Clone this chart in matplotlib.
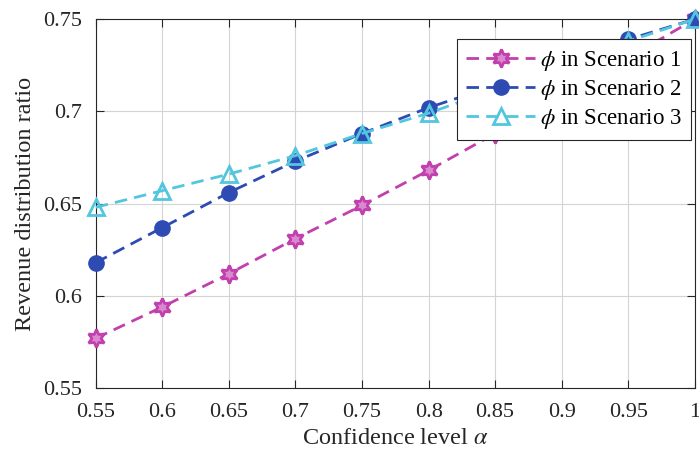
import matplotlib
matplotlib.use('Agg')
import matplotlib.pyplot as plt

# confidence levels and revenue distribution ratios
alpha = [0.55, 0.6, 0.65, 0.7, 0.75, 0.8, 0.85, 0.9, 0.95, 1.0]
scenario1 = [0.577, 0.594, 0.612, 0.631, 0.649, 0.668, 0.688, 0.708, 0.729, 0.750]
scenario2 = [0.618, 0.637, 0.656, 0.673, 0.688, 0.702, 0.714, 0.727, 0.739, 0.750]
scenario3 = [0.648, 0.657, 0.666, 0.676, 0.688, 0.699, 0.712, 0.725, 0.738, 0.750]
labels = [r'$\phi$ in Scenario 1', r'$\phi$ in Scenario 2', r'$\phi$ in Scenario 3']

plt.rcParams['font.family'] = ['Liberation Serif', 'DejaVu Serif']
plt.rcParams['mathtext.fontset'] = 'stix'

fig = plt.figure(figsize=(6.99, 4.55), dpi=100)
ax = fig.add_axes([0.137, 0.147, 0.857, 0.811])

dash = (4.5, 2.6)
ax.plot(alpha, scenario1, linestyle='--', dashes=dash, color='#C23FAE', lw=2.0,
        marker=(6, 1, 0), markersize=13, markerfacecolor='#D98ACD',
        markeredgecolor='#C23FAE', markeredgewidth=2.0, label=labels[0], clip_on=False, zorder=3)
ax.plot(alpha, scenario2, linestyle='--', dashes=dash, color='#2E4BB4', lw=2.0,
        marker='o', markersize=11, markerfacecolor='#2E4BB4',
        markeredgecolor='#2E4BB4', label=labels[1], clip_on=False, zorder=3)
ax.plot(alpha, scenario3, linestyle='--', dashes=dash, color='#52C6DF', lw=2.0,
        marker='^', markersize=11, markerfacecolor='none',
        markeredgecolor='#52C6DF', markeredgewidth=2.0, label=labels[2], clip_on=False, zorder=3)

ax.set_xlim(0.55, 1.0)
ax.set_ylim(0.55, 0.75)
ax.set_xticks(alpha)
ax.set_xticklabels(['0.55', '0.6', '0.65', '0.7', '0.75', '0.8', '0.85', '0.9', '0.95', '1'])
ax.set_yticks([0.55, 0.6, 0.65, 0.7, 0.75])
ax.set_yticklabels(['0.55', '0.6', '0.65', '0.7', '0.75'])
ax.grid(True, color='#D4D4D4', lw=0.8)
ax.set_axisbelow(True)
ax.tick_params(direction='in', length=6, labelsize=16, colors='#262626',
               top=True, right=True)
ax.tick_params(axis='y', pad=10)
ax.tick_params(axis='x', pad=11)
for s in ax.spines.values():
    s.set_color('#262626')
    s.set_linewidth(0.8)

ax.set_xlabel(r'Confidence level $\alpha$', fontsize=17.5, color='#262626', labelpad=4)
ax.set_ylabel('Revenue distribution ratio', fontsize=17.5, color='#262626', labelpad=5)

leg = ax.legend(loc='upper right', bbox_to_anchor=(0.993, 0.945), fontsize=16.5,
                fancybox=False, framealpha=1, edgecolor='#262626', numpoints=1,
                handlelength=3.0, handletextpad=0.2, borderpad=0.4, labelspacing=0.22,
                borderaxespad=0.0)
leg.get_frame().set_linewidth(0.8)

fig.savefig('out.png', dpi=100)
